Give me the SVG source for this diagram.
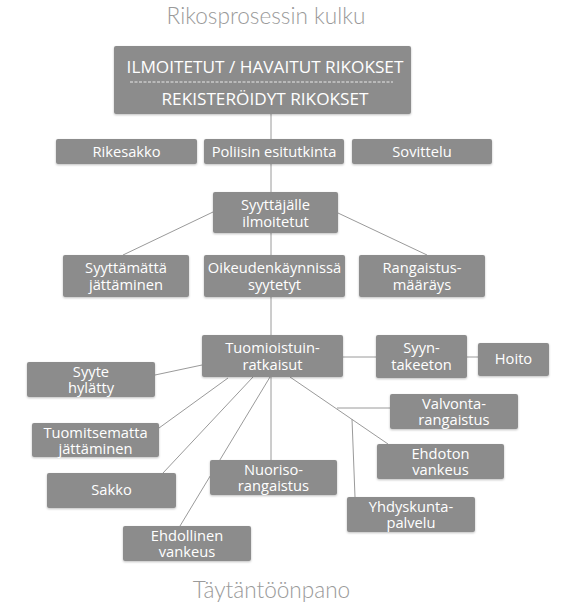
<svg xmlns="http://www.w3.org/2000/svg" width="564" height="615" viewBox="0 0 564 615">
<style>
.bx{fill:#8c8c8c;filter:url(#sh)}
.t{font-family:"Open Sans","DejaVu Sans",sans-serif;font-size:14.7px;fill:#ffffff;text-anchor:middle}
.tb{font-size:17.2px}
.ttl{font-family:Lato,"Open Sans",sans-serif;font-weight:300;font-size:22.6px;fill:#9a9a9a;text-anchor:middle}
.c{stroke:#9a9a9a;stroke-width:1;fill:none}
</style>
<defs>
<filter id="sh" x="-10%" y="-20%" width="120%" height="150%">
<feDropShadow dx="0" dy="1" stdDeviation="1.2" flood-color="#000" flood-opacity="0.25"/>
</filter>
</defs>
<rect width="564" height="615" fill="#ffffff"/>
<text class="ttl" x="266" y="24">Rikosprosessin kulku</text>
<text class="ttl" x="271.5" y="598">Täytäntöönpano</text>
<g id="connectors">
<line class="c" x1="271" y1="114" x2="271" y2="139"/>
<line class="c" x1="271" y1="164" x2="271" y2="192"/>
<line class="c" x1="271" y1="233" x2="271" y2="255"/>
<line class="c" x1="271" y1="297" x2="271" y2="335"/>
<line class="c" x1="271" y1="377" x2="271" y2="460"/>
<line class="c" x1="213" y1="212" x2="123" y2="255"/>
<line class="c" x1="338" y1="213" x2="427" y2="255"/>
<line class="c" x1="343" y1="357" x2="376" y2="357"/>
<line class="c" x1="467" y1="357" x2="478" y2="357"/>
<line class="c" x1="202" y1="365" x2="155" y2="375"/>
<line class="c" x1="228" y1="378" x2="159" y2="428"/>
<line class="c" x1="253" y1="377" x2="163" y2="473"/>
<line class="c" x1="270" y1="377" x2="180" y2="526"/>
<line class="c" x1="290" y1="377" x2="388" y2="444"/>
<line class="c" x1="337" y1="408" x2="390" y2="408"/>
<line class="c" x1="352" y1="419" x2="355" y2="497"/>
</g>
<g id="n-rikokset">
<rect class="bx" x="114" y="46" width="297" height="68" rx="2"/>
<text class="t tb" x="265" y="73">ILMOITETUT / HAVAITUT RIKOKSET</text>
<line x1="130" y1="82" x2="393" y2="82" stroke="#ffffff" stroke-width="1" stroke-dasharray="3,1.5" opacity="0.8"/>
<text class="t tb" x="265" y="105">REKISTERÖIDYT RIKOKSET</text>
</g>
<g id="n-rikesakko"><rect class="bx" x="56" y="139" width="141" height="25" rx="2"/><text class="t" x="126.5" y="157">Rikesakko</text></g>
<g id="n-poliisin"><rect class="bx" x="204" y="139" width="140" height="25" rx="2"/><text class="t" x="274" y="157">Poliisin esitutkinta</text></g>
<g id="n-sovittelu"><rect class="bx" x="352" y="139" width="140" height="25" rx="2"/><text class="t" x="422" y="157">Sovittelu</text></g>
<g id="n-syyttajalle"><rect class="bx" x="213" y="192" width="125" height="41" rx="2"/><text class="t" x="275.5" y="210">Syyttäjälle<tspan x="275.5" dy="17">ilmoitetut</tspan></text></g>
<g id="n-syyttamatta"><rect class="bx" x="63" y="255" width="126" height="42" rx="2"/><text class="t" x="126" y="273">Syyttämättä<tspan x="126" dy="17">jättäminen</tspan></text></g>
<g id="n-oikeudenkaynnissa"><rect class="bx" x="204" y="255" width="141" height="42" rx="2"/><text class="t" x="274.5" y="273">Oikeudenkäynnissä<tspan x="274.5" dy="17">syytetyt</tspan></text></g>
<g id="n-rangaistusmaarays"><rect class="bx" x="359" y="255" width="126" height="42" rx="2"/><text class="t" x="422" y="273">Rangaistus-<tspan x="422" dy="17">määräys</tspan></text></g>
<g id="n-tuomioistuin"><rect class="bx" x="202" y="335" width="141" height="42" rx="2"/><text class="t" x="272.5" y="353">Tuomioistuin-<tspan x="272.5" dy="17">ratkaisut</tspan></text></g>
<g id="n-syyntakeeton"><rect class="bx" x="376" y="335" width="91" height="43" rx="2"/><text class="t" x="421.5" y="353">Syyn-<tspan x="421.5" dy="17">takeeton</tspan></text></g>
<g id="n-hoito"><rect class="bx" x="478" y="343" width="71" height="33" rx="2"/><text class="t" x="513.5" y="364">Hoito</text></g>
<g id="n-syytehylatty"><rect class="bx" x="27" y="362" width="128" height="35" rx="2"/><text class="t" x="91" y="377">Syyte<tspan x="91" dy="16">hylätty</tspan></text></g>
<g id="n-tuomitsematta"><rect class="bx" x="32" y="423" width="127" height="34" rx="2"/><text class="t" x="95.5" y="438">Tuomitsematta<tspan x="95.5" dy="16">jättäminen</tspan></text></g>
<g id="n-sakko"><rect class="bx" x="47" y="473" width="129" height="35" rx="2"/><text class="t" x="111.5" y="495">Sakko</text></g>
<g id="n-nuoriso"><rect class="bx" x="210" y="460" width="127" height="35" rx="2"/><text class="t" x="273.5" y="475">Nuoriso-<tspan x="273.5" dy="16">rangaistus</tspan></text></g>
<g id="n-ehdollinen"><rect class="bx" x="123" y="526" width="128" height="35" rx="2"/><text class="t" x="187" y="541">Ehdollinen<tspan x="187" dy="16">vankeus</tspan></text></g>
<g id="n-valvonta"><rect class="bx" x="390" y="394" width="128" height="35" rx="2"/><text class="t" x="454" y="409">Valvonta-<tspan x="454" dy="16">rangaistus</tspan></text></g>
<g id="n-ehdoton"><rect class="bx" x="377" y="444" width="127" height="35" rx="2"/><text class="t" x="440.5" y="459">Ehdoton<tspan x="440.5" dy="16">vankeus</tspan></text></g>
<g id="n-yhdyskunta"><rect class="bx" x="347" y="497" width="128" height="35" rx="2"/><text class="t" x="411" y="512">Yhdyskunta-<tspan x="411" dy="16">palvelu</tspan></text></g>
</svg>
